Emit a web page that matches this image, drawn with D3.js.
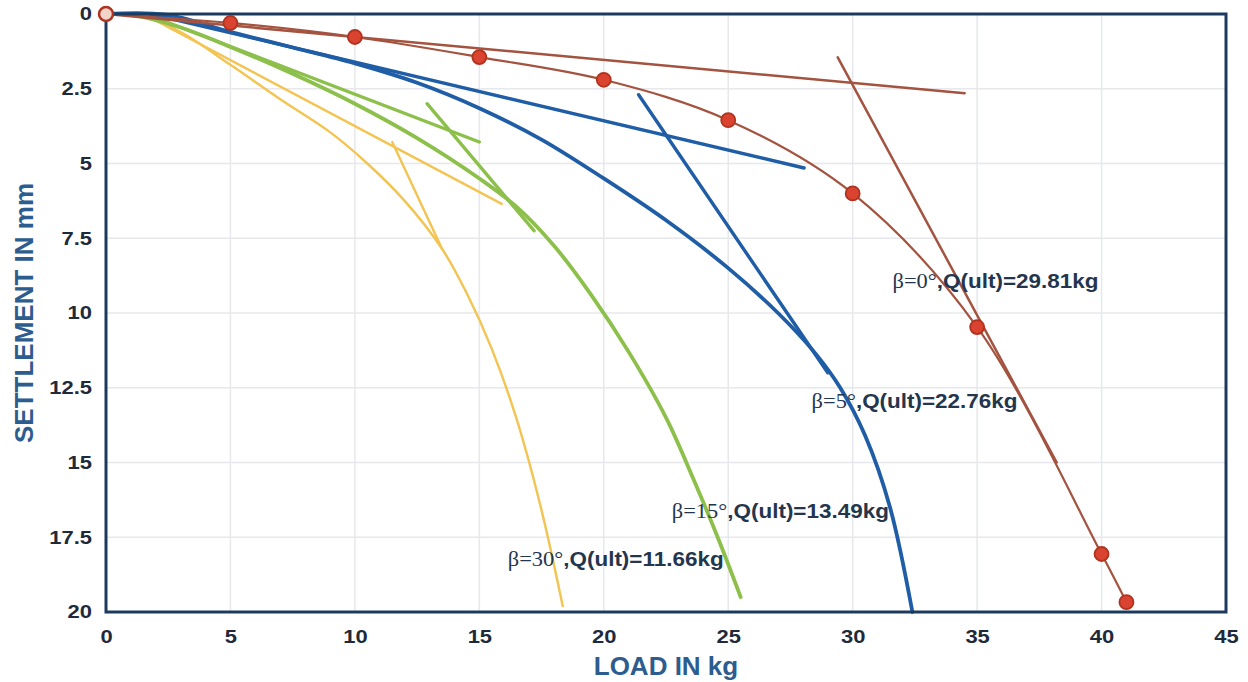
<!DOCTYPE html>
<html><head><meta charset="utf-8">
<script src="https://cdn.jsdelivr.net/npm/d3@7"></script>
<style>body{margin:0;background:#fff}svg{display:block}</style>
</head><body>
<svg id="c" width="1248" height="682"></svg>
<script>
// ---- data ----
const xTicks = [0,5,10,15,20,25,30,35,40,45];
const yTicks = [0,2.5,5,7.5,10,12.5,15,17.5,20];

// beta = 0 deg (measured points)
const b0Load   = [0,5,10,15,20,25,30,35,40,41];
const b0Settle = [0,0.3,0.77,1.44,2.2,3.55,6.0,10.47,18.06,19.67];
const b0TanA = [[0,0],[34.5,2.65]];
const b0TanB = [[29.4,1.45],[38.2,15.0]];

// beta = 5 deg
const b5Load   = [0,2.4,5,7.5,10,12.5,15,17.5,20,22.5,25,27,28.5,29.5,30.5,31.5,32.4];
const b5Settle = [0,0.02,0.6,1.12,1.65,2.3,3.15,4.2,5.5,6.9,8.5,10.0,11.35,12.5,14.1,16.5,20];
const b5TanA = [[1.8,0],[28.05,5.15]];
const b5TanB = [[21.4,2.7],[29.0,12.0]];

// beta = 15 deg
const b15Load   = [0,1,3,5,7.5,10,12.5,15,16.5,18,19.5,21,22.5,23.6,24.6,25.5];
const b15Settle = [0,0.03,0.45,1.1,2.0,3.0,4.15,5.5,6.45,7.75,9.4,11.3,13.5,15.55,17.55,19.5];
const b15TanA = [[1.6,0],[15.0,4.28]];
const b15TanB = [[12.9,3.0],[17.2,7.25]];

// beta = 30 deg
const b30Load   = [0,1.5,3,5,7,9,10.5,12,13.5,14.5,15.5,16.5,17.5,18.35];
const b30Settle = [0,0.08,0.6,1.7,2.85,3.95,5.0,6.25,7.85,9.35,11.2,13.55,16.6,19.8];
const b30TanA = [[1.5,0],[15.9,6.35]];
const b30TanB = [[11.5,4.28],[13.5,7.85]];

const labels = [
  {b:"β=0°", q:",Q(ult)=29.81kg", L:31.6, S:9.16},
  {b:"β=5°", q:",Q(ult)=22.76kg", L:28.35, S:13.18},
  {b:"β=15°", q:",Q(ult)=13.49kg", L:22.73, S:16.86},
  {b:"β=30°", q:",Q(ult)=11.66kg", L:16.14, S:18.46}
];

// ---- layout ----
const svg = d3.select("#c");
const x = d3.scaleLinear().domain([0,45]).range([106,1226]);
const y = d3.scaleLinear().domain([0,20]).range([14,612]);
const SANS = "Liberation Sans, Arial, sans-serif";

// grid
svg.append("g").selectAll("line").data(xTicks.slice(1,-1)).join("line")
  .attr("x1",d=>x(d)).attr("x2",d=>x(d)).attr("y1",y(0)).attr("y2",y(20))
  .attr("stroke","#e6e8eb").attr("stroke-width",1.5);
svg.append("g").selectAll("line").data(yTicks.slice(1,-1)).join("line")
  .attr("y1",d=>y(d)).attr("y2",d=>y(d)).attr("x1",x(0)).attr("x2",x(45))
  .attr("stroke","#e6e8eb").attr("stroke-width",1.5);

// axes (labels)
const SX = 1.22;
const gx = svg.append("g").attr("transform",`translate(0,${y(20)})`)
  .call(d3.axisBottom(x).tickValues(xTicks).tickSize(0).tickPadding(18));
const gy = svg.append("g").attr("transform",`translate(${x(0)},0)`)
  .call(d3.axisLeft(y).tickValues(yTicks).tickSize(0).tickPadding(14).tickFormat(d=>d));
[gx,gy].forEach(g=>{
  g.select(".domain").remove();
  g.selectAll("text").attr("font-family",SANS)
   .attr("font-weight","bold").attr("font-size",18).attr("fill","#1e2a3a")
   .attr("transform",`scale(${SX},1)`);
});
gy.selectAll("text").attr("x",-14/SX);

const line = d3.line().x(d=>x(d[0])).y(d=>y(d[1]));
const curve = d3.line().x(d=>x(d[0])).y(d=>y(d[1])).curve(d3.curveCatmullRom.alpha(0.5));
const zip = (a,b)=>a.map((v,i)=>[v,b[i]]);

function drawSeries(loads, settles, tanA, tanB, color, w, tw){
  svg.append("path").attr("d",curve(zip(loads,settles))).attr("fill","none")
    .attr("stroke",color).attr("stroke-width",w).attr("stroke-linecap","round");
  [tanA,tanB].forEach(t=>svg.append("path").attr("d",line(t)).attr("fill","none")
    .attr("stroke",color).attr("stroke-width",tw).attr("stroke-linecap","round"));
}
drawSeries(b30Load,b30Settle,b30TanA,b30TanB,"#f3c451",2.4,2.4);
drawSeries(b15Load,b15Settle,b15TanA,b15TanB,"#8cc04b",3.8,3.4);
drawSeries(b5Load,b5Settle,b5TanA,b5TanB,"#1f5da6",3.8,3.4);
drawSeries(b0Load,b0Settle,b0TanA,b0TanB,"#a3533f",2.2,2.5);

// frame
svg.append("rect").attr("x",x(0)).attr("y",y(0)).attr("width",x(45)-x(0)).attr("height",y(20)-y(0))
  .attr("fill","none").attr("stroke","#1c3a5e").attr("stroke-width",3);

// markers
svg.append("g").selectAll("circle").data(zip(b0Load,b0Settle)).join("circle")
  .attr("cx",d=>x(d[0])).attr("cy",d=>y(d[1])).attr("r",7)
  .attr("fill",(d,i)=>i===0?"#f1d3ca":"#d9432f").attr("stroke","#b0331f").attr("stroke-width",(d,i)=>i===0?2.5:1.8);

// labels
const lt = svg.append("g").selectAll("text").data(labels).join("text")
  .attr("transform",d=>`translate(${x(d.L)},${y(d.S)}) scale(1.07,1)`)
  .attr("font-size",21).attr("fill","#24364d");
lt.append("tspan").attr("font-family","Liberation Serif, Times New Roman, serif").text(d=>d.b);
lt.append("tspan").attr("font-family",SANS).attr("font-weight","bold").text(d=>d.q);

// axis titles (centred on the plot area)
svg.append("text").attr("x",(x(0)+x(45))/2).attr("y",675).attr("text-anchor","middle")
  .attr("font-family",SANS).attr("font-weight","bold")
  .attr("font-size",26).attr("fill","#2d5c8e").text("LOAD IN kg");
svg.append("text").attr("transform",`translate(33,${(y(0)+y(20))/2}) rotate(-90)`).attr("text-anchor","middle")
  .attr("font-family",SANS).attr("font-weight","bold")
  .attr("font-size",26).attr("fill","#2d5c8e").text("SETTLEMENT IN mm");
</script>
</body></html>
